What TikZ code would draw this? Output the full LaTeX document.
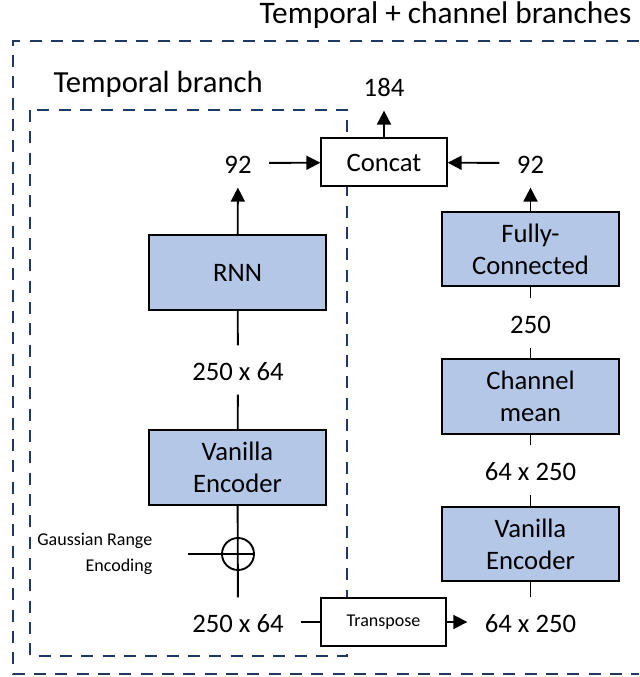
\documentclass[tikz,border=0pt]{standalone}
\usepackage{fontspec}
\setmainfont{Carlito}
\usetikzlibrary{arrows.meta}
\definecolor{boxblue}{HTML}{B4C7E7}
\definecolor{dashnavy}{HTML}{1F3864}

\begin{document}
\begin{tikzpicture}[x=0.75pt,y=-0.75pt,
	block/.style={draw,line width=1.5pt,fill=boxblue,minimum width=133pt,minimum height=56pt,align=center,font=\fontsize{20}{24}\selectfont},
	opbox/.style={draw,line width=1.5pt,fill=white,minimum width=94pt,minimum height=36pt},
	dim/.style={inner xsep=13pt,inner ysep=0pt,text height=26pt,text depth=10.5pt,font=\fontsize{20}{24}\selectfont},
	link/.style={line width=1.4pt},
	flow/.style={line width=1.4pt,-{Triangle[length=10.5pt,width=10.5pt]}},
	branch/.style={dashnavy,line width=1.5pt,dash pattern=on 9pt off 7pt}]
				
				\useasboundingbox (0,0) rectangle (639,677);
				
				% dashed branch frames
				\draw[branch] (639,41) -- (13,41) -- (13,674) -- (639,674);
				\draw[branch] (30,110) rectangle (347,656);
				
				\node[anchor=base east,font=\fontsize{23.5}{28}\selectfont] (ttl) at (636,24) {Temporal + channel branches};
				\node[anchor=base west,font=\fontsize{23}{28}\selectfont] (tbr) at (49,93) {Temporal branch};
				
				\node[opbox,font=\fontsize{20}{24}\selectfont] (conc) at (384,162.5) {Concat};
				\node[dim] (out) at (384,86) {184};
				\node[dim] (tout) at (238,163) {92};
				\node[dim] (cout) at (530.5,163) {92};
				
				\draw[flow] (conc) -- (out);
				\draw[flow] (tout) -- (conc);
				\draw[flow] (cout) -- (conc);
				
				% temporal branch
				\node[block] (rnn) at (237.5,272.5) {RNN};
				\node[dim] (t1) at (238,370) {250 x 64};
				\node[block] (enc1) at (237.5,467.5) {Vanilla\\Encoder};
				\node[circle,draw,line width=1.4pt,inner sep=0pt,minimum size=24pt] (gre) at (238,554) {};
				\node[anchor=east,align=right,font=\fontsize{13.5}{20}\selectfont] (gtxt) at (157,554) {Gaussian Range\\Encoding};
				\coordinate (gin) at (188,554);
				\node[dim] (t0) at (238,622) {250 x 64};
				
				\draw[flow] (rnn) -- (tout);
				\draw[link] (rnn) -- (t1);
				\draw[link] (t1) -- (enc1);
				\draw[link] (enc1) -- (t0);
				\draw[link] (gin) -- (gre.east);
				
				% channel branch
				\node[opbox,font=\fontsize{13.5}{16}\selectfont] (tr) at (383.5,622) {Transpose};
				\node[dim] (c0) at (530.5,622) {64 x 250};
				\node[block] (enc2) at (530.5,544) {Vanilla\\Encoder};
				\node[dim] (c1) at (530.5,470) {64 x 250};
				\node[block] (cm) at (530.5,396.5) {Channel\\mean};
				\node[dim] (c2) at (530.5,323) {250};
				\node[block] (fc) at (530.5,249) {Fully-\\Connected};
				
				\draw[link] (t0) -- (tr);
				\draw[flow] (tr) -- (c0);
				\draw[link] (c0) -- (enc2);
				\draw[link] (enc2) -- (c1);
				\draw[link] (c1) -- (cm);
				\draw[link] (cm) -- (c2);
				\draw[link] (c2) -- (fc);
				\draw[flow] (fc) -- (cout);
				
			\end{tikzpicture}
\end{document}
